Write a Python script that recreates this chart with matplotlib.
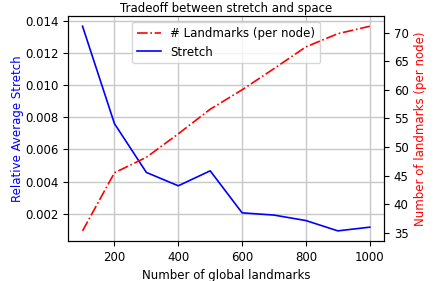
import matplotlib
matplotlib.use("Agg")
import matplotlib.pyplot as plt

# ---------------------------
# DATA
# ---------------------------

num_landmarks = [100, 200, 300, 400, 500, 600, 700, 800, 900, 1000]
stretch = [0.01365, 0.0076, 0.00457, 0.00374, 0.00467, 0.00206, 0.00192, 0.00158, 0.00094, 0.00117]
landmarks_per_node = [35.35, 45.5, 48.2, 52.3, 56.6, 60.0, 63.7, 67.5, 69.8, 71.1]

# ---------------------------
# PLOT
# ---------------------------

plt.rcParams["font.size"] = 8.5

fig, ax1 = plt.subplots(figsize=(4.37, 2.81), dpi=100)
fig.subplots_adjust(left=0.156, right=0.879, bottom=0.142, top=0.943)

l1, = ax1.plot(num_landmarks, stretch, "b-", linewidth=1.2, label="Stretch")
ax1.set_xlabel("Number of global landmarks")
ax1.set_ylabel("Relative Average Stretch", color="b", labelpad=1)
ax1.set_yticks([0.002, 0.004, 0.006, 0.008, 0.010, 0.012, 0.014])
ax1.grid(True, color="#c8c8c8", linewidth=1.0)
ax1.set_axisbelow(True)

ax2 = ax1.twinx()
l2, = ax2.plot(num_landmarks, landmarks_per_node, "r-.", linewidth=1.2, label="# Landmarks (per node)")
ax2.set_ylabel("Number of landmarks (per node)", color="r")

ax1.set_title("Tradeoff between stretch and space", fontsize=8.5, pad=3)
ax1.legend([l2, l1], [l2.get_label(), l1.get_label()], loc="upper center")

fig.savefig("out.png", dpi=100)
